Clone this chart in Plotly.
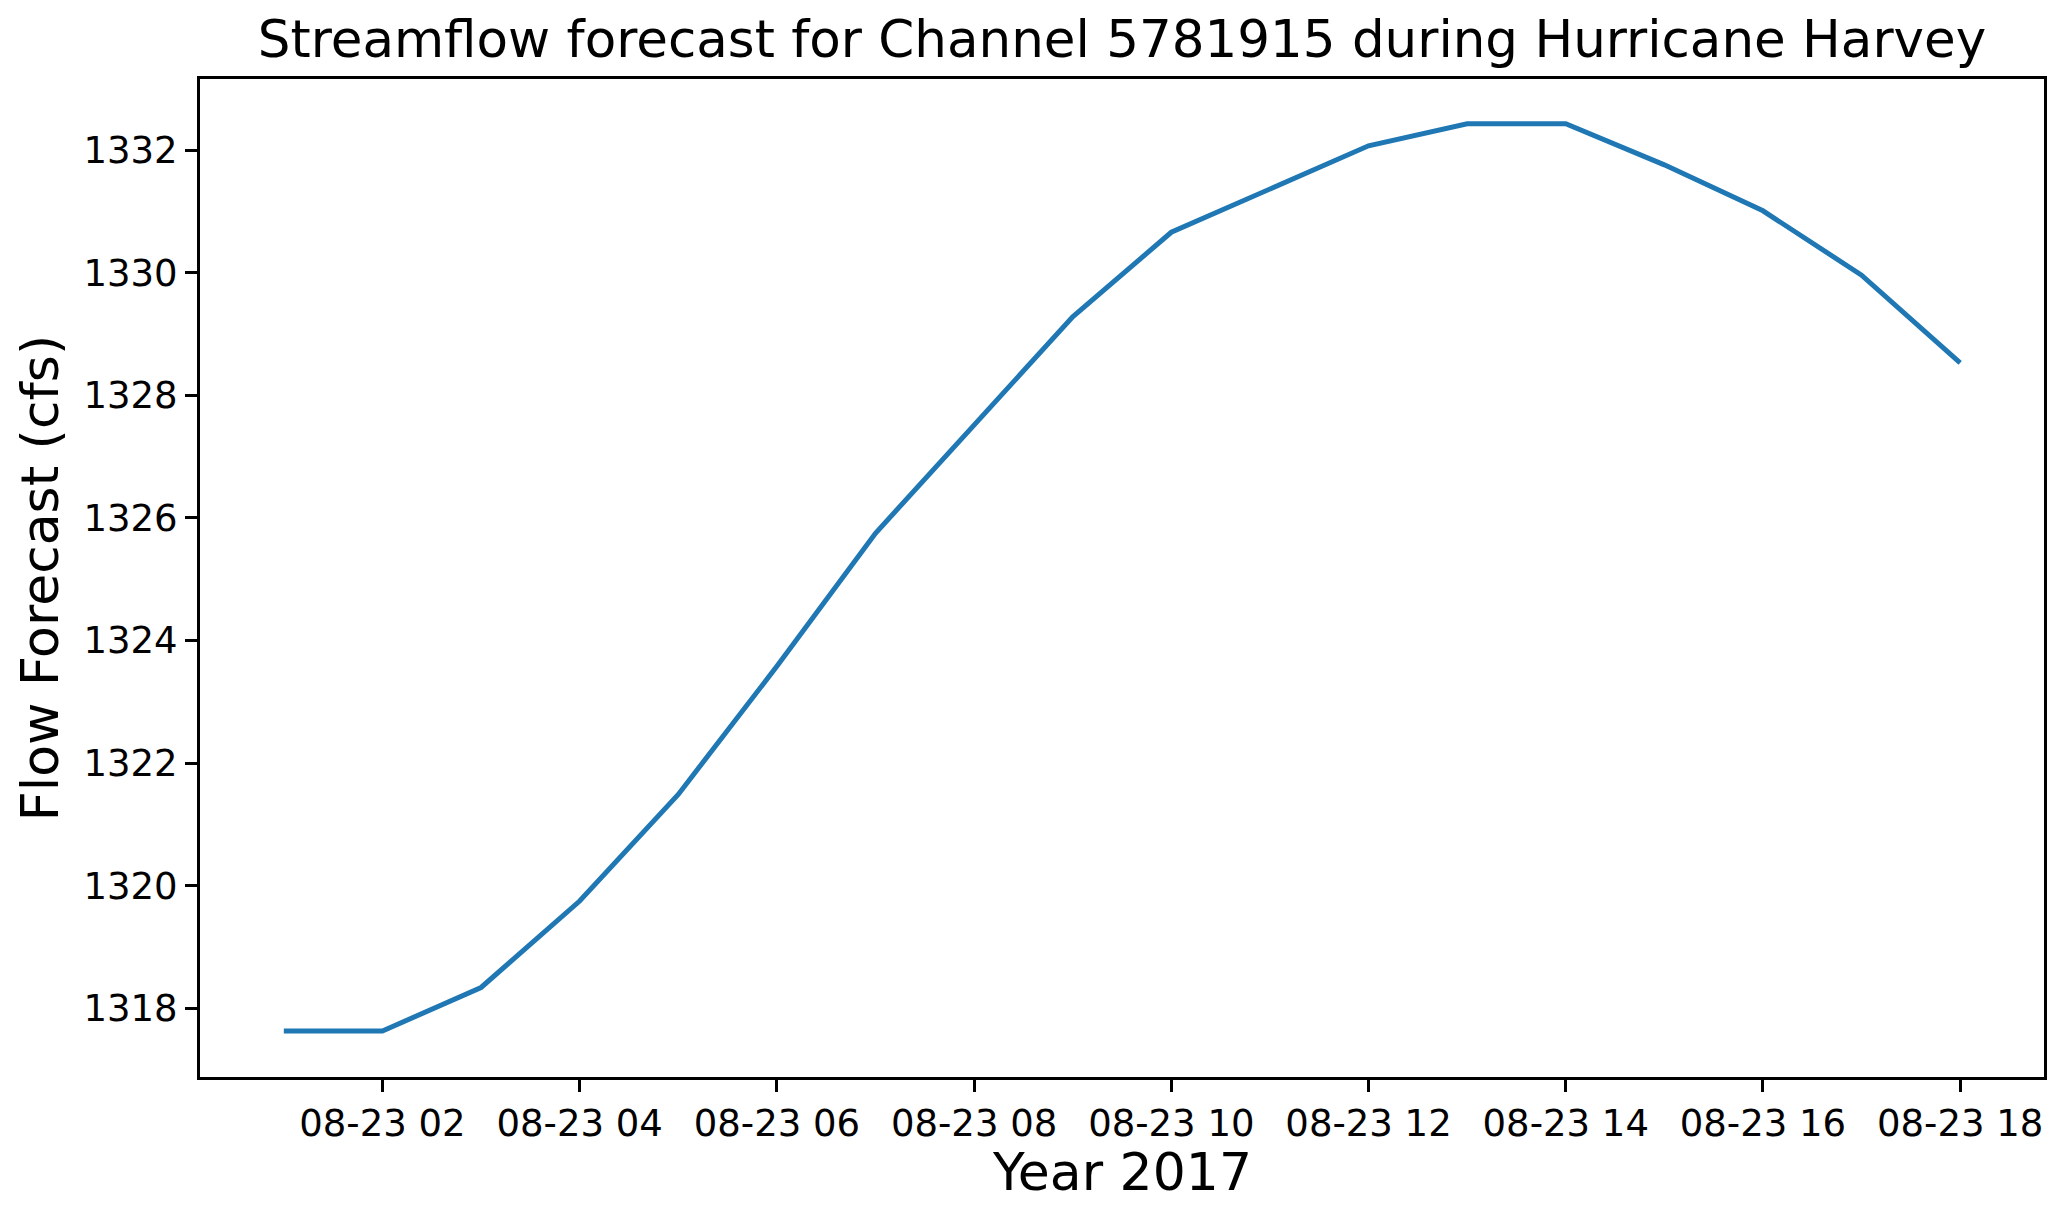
import plotly.graph_objects as go

# Data
times = [
    "2017-08-23 01:00", "2017-08-23 02:00", "2017-08-23 03:00", "2017-08-23 04:00",
    "2017-08-23 05:00", "2017-08-23 06:00", "2017-08-23 07:00", "2017-08-23 08:00",
    "2017-08-23 09:00", "2017-08-23 10:00", "2017-08-23 11:00", "2017-08-23 12:00",
    "2017-08-23 13:00", "2017-08-23 14:00", "2017-08-23 15:00", "2017-08-23 16:00",
    "2017-08-23 17:00", "2017-08-23 18:00",
]
flow = [
    1317.63, 1317.63, 1318.34, 1319.75, 1321.49, 1323.58, 1325.75, 1327.50,
    1329.28, 1330.66, 1331.37, 1332.07, 1332.43, 1332.43, 1331.76, 1331.01,
    1329.96, 1328.53,
]
x_ticks = [
    "2017-08-23 02:00", "2017-08-23 04:00", "2017-08-23 06:00", "2017-08-23 08:00",
    "2017-08-23 10:00", "2017-08-23 12:00", "2017-08-23 14:00", "2017-08-23 16:00",
    "2017-08-23 18:00",
]
y_ticks = [1318, 1320, 1322, 1324, 1326, 1328, 1330, 1332]

title_text = "Streamflow forecast for Channel 5781915 during Hurricane Harvey"
x_title = "Year 2017"
y_title = "Flow Forecast (cfs)"

FONT = "DejaVu Sans"
# page has an 8px body margin; figure coordinates are page coordinates minus 8
W, H = 2051, 1203
L, T = 192, 71
PLOT_RIGHT, PLOT_BOTTOM = 2038, 1069   # figure coords of plot area edges
R, B = W - PLOT_RIGHT, H - PLOT_BOTTOM
plot_w = PLOT_RIGHT - L
plot_h = PLOT_BOTTOM - T

fig = go.Figure()
fig.add_trace(go.Scatter(
    x=times, y=flow, mode="lines",
    line=dict(color="#1f77b4", width=5),
    showlegend=False,
))

axis_common = dict(
    showline=True, linecolor="black", linewidth=3, mirror=True,
    ticks="outside", ticklen=12, tickwidth=3, tickcolor="black",
    showgrid=False, zeroline=False,
    tickfont=dict(family=FONT, size=37, color="black"),
)

fig.update_xaxes(
    type="date",
    range=["2017-08-23 00:09", "2017-08-23 18:51"],
    tickvals=x_ticks, tickformat="%m-%d %H",
    **axis_common,
)
fig.update_yaxes(
    range=[1316.88, 1333.16],
    tickvals=y_ticks,
    **axis_common,
)

fig.update_layout(
    width=W, height=H,
    margin=dict(l=L, r=R, t=T, b=B),
    paper_bgcolor="white", plot_bgcolor="white",
    font=dict(family=FONT, color="black"),
    title=dict(
        text=title_text, xref="paper", x=0.5, xanchor="center",
        y=1 - 31 / H, yanchor="middle",
        font=dict(family=FONT, size=51.5, color="black"),
    ),
    annotations=[
        dict(text=x_title, xref="paper", yref="paper", x=0.5,
             y=-(1164 - PLOT_BOTTOM) / plot_h, xanchor="center", yanchor="middle",
             showarrow=False, font=dict(family=FONT, size=52, color="black")),
        dict(text=y_title, xref="paper", yref="paper", x=(32 - L) / plot_w,
             y=0.5, xanchor="center", yanchor="middle", textangle=-90,
             showarrow=False, font=dict(family=FONT, size=52, color="black")),
    ],
)

fig.write_html("out.html")
